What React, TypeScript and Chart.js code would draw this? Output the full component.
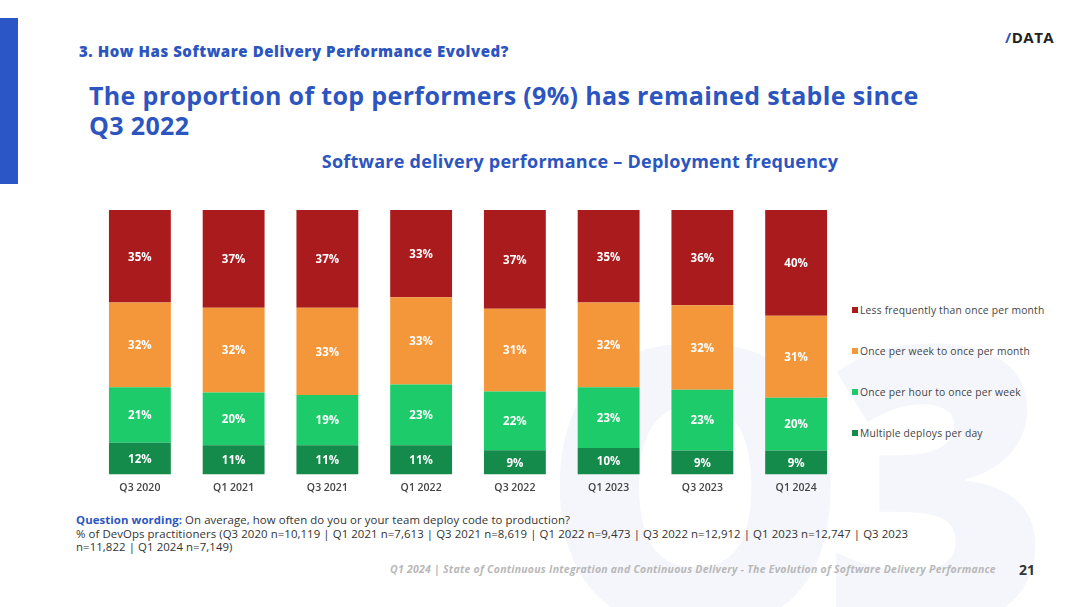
import React, { useEffect, useRef } from "react";
import { Chart, registerables } from "chart.js";

Chart.register(...registerables);

const categories = ["Q3 2020", "Q1 2021", "Q3 2021", "Q1 2022", "Q3 2022", "Q1 2023", "Q3 2023", "Q1 2024"];
const seriesNames = [
  "Multiple deploys per day",
  "Once per hour to once per week",
  "Once per week to once per month",
  "Less frequently than once per month",
];
const multipleDaily = [12, 11, 11, 11, 9, 10, 9, 9];
const hourToWeek = [21, 20, 19, 23, 22, 23, 23, 20];
const weekToMonth = [32, 32, 33, 33, 31, 32, 32, 31];
const lessThanMonthly = [35, 37, 37, 33, 37, 35, 36, 40];
const seriesColors = ["#148A4B", "#1DCB6B", "#F3973A", "#AA1B1E"];

const FONT = "'Open Sans', sans-serif";

const rawSeries = [multipleDaily, hourToWeek, weekToMonth, lessThanMonthly];

const labelPlugin = {
  id: "segLabels",
  afterDatasetsDraw(chart: any) {
    const ctx = chart.ctx;
    ctx.save();
    ctx.fillStyle = "#ffffff";
    ctx.font = `700 11.5px ${FONT}`;
    ctx.textAlign = "center";
    ctx.textBaseline = "middle";
    chart.data.datasets.forEach((ds: any, di: number) => {
      const meta = chart.getDatasetMeta(di);
      meta.data.forEach((bar: any, i: number) => {
        const p = bar.getProps(["x", "y", "base"], true);
        const cy = (p.y + p.base) / 2 + 1;
        ctx.fillText(`${rawSeries[di][i]}%`, p.x, cy);
      });
    });
    ctx.restore();
  },
};

function ChartCanvas() {
  const ref = useRef<HTMLCanvasElement | null>(null);
  useEffect(() => {
    if (!ref.current) return;
    const totals = categories.map((_, i) => rawSeries.reduce((s, arr) => s + arr[i], 0));
    const chart = new Chart(ref.current, {
      type: "bar",
      data: {
        labels: categories,
        datasets: rawSeries.map((arr, di) => ({
          label: seriesNames[di],
          data: arr.map((v, i) => (v / totals[i]) * 100),
          backgroundColor: seriesColors[di],
          borderWidth: 0,
          barPercentage: 0.66,
          categoryPercentage: 1,
        })),
      },
      options: {
        animation: false,
        responsive: false,
        maintainAspectRatio: false,
        layout: { padding: 0 },
        plugins: {
          legend: { display: false },
          tooltip: { enabled: false },
          title: { display: false },
        },
        scales: {
          x: {
            stacked: true,
            grid: { display: false, drawTicks: false },
            border: { display: false },
            ticks: { color: "#444", font: { family: FONT, size: 10.5, weight: 600 }, padding: 7 },
          },
          y: {
            stacked: true,
            display: false,
            min: 0,
            max: 100,
          },
        },
      },
      plugins: [labelPlugin],
    });
    return () => chart.destroy();
  }, []);
  return (
    <canvas
      ref={ref}
      width={750}
      height={291}
      style={{ position: "absolute", left: 93, top: 210, width: 750, height: 291 }}
    />
  );
}

const legendOrder = [3, 2, 1, 0];
const legendY = [310, 351, 392, 433];

export default function App() {
  return (
    <div
      style={{
        position: "absolute",
        left: 0,
        top: 0,
        width: 1080,
        height: 607,
        overflow: "hidden",
        background: "#ffffff",
        fontFamily: FONT,
      }}
    >
      {/* watermark */}
      <div
        style={{
          position: "absolute",
          left: 540,
          top: 280,
          fontSize: 390,
          fontWeight: 800,
          color: "#f5f6fb",
          lineHeight: 1,
          whiteSpace: "nowrap",
          letterSpacing: -28,
        }}
      >
        Q3
      </div>
      <div style={{ position: "absolute", left: 0, top: 18, width: 18, height: 166, background: "#2B56C6" }} />
      <div
        style={{
          position: "absolute",
          left: 79,
          top: 41,
          fontSize: 15,
          fontWeight: 800,
          color: "#2C55C0",
          whiteSpace: "nowrap",
          letterSpacing: 0.55,
        }}
      >
        3. How Has Software Delivery Performance Evolved?
      </div>
      <div
        style={{
          position: "absolute",
          left: 1005,
          top: 27,
          fontSize: 15,
          fontWeight: 700,
          color: "#222",
          whiteSpace: "nowrap",
          letterSpacing: 0.5,
        }}
      >
        <span style={{ color: "#2C55C0" }}>/</span>DATA
      </div>
      <div
        style={{
          position: "absolute",
          left: 89,
          top: 80,
          fontSize: 25,
          fontWeight: 700,
          color: "#2C55C0",
          lineHeight: "30px",
          whiteSpace: "nowrap",
          letterSpacing: 0.35,
        }}
      >
        The proportion of top performers (9%) has remained stable since
        <br />
        Q3 2022
      </div>
      <div
        style={{
          position: "absolute",
          left: 0,
          width: 1160,
          top: 149,
          textAlign: "center",
          fontSize: 18,
          fontWeight: 700,
          color: "#2C55C0",
          whiteSpace: "nowrap",
          letterSpacing: 0.25,
        }}
      >
        Software delivery performance – Deployment frequency
      </div>
      <ChartCanvas />
      {legendOrder.map((si, k) => (
        <div
          key={si}
          style={{
            position: "absolute",
            left: 852,
            top: legendY[k] - 8,
            height: 16,
            display: "flex",
            alignItems: "center",
            fontSize: 10.3,
            color: "#444",
            whiteSpace: "nowrap",
            letterSpacing: 0.2,
          }}
        >
          <span style={{ width: 6, height: 6, background: seriesColors[si], marginRight: 2, display: "inline-block" }} />
          {seriesNames[si]}
        </div>
      ))}
      <div
        style={{
          position: "absolute",
          left: 76,
          top: 513,
          fontSize: 11.4,
          color: "#333",
          lineHeight: "13.5px",
          whiteSpace: "nowrap",
          letterSpacing: 0.08,
        }}
      >
        <span style={{ color: "#2C55C0", fontWeight: 700 }}>Question wording:</span> On average, how often do you or
        your team deploy code to production?
        <br />% of DevOps practitioners (Q3 2020 n=10,119 | Q1 2021 n=7,613 | Q3 2021 n=8,619 | Q1 2022 n=9,473 | Q3
        2022 n=12,912 | Q1 2023 n=12,747 | Q3 2023
        <br />
        n=11,822 | Q1 2024 n=7,149)
      </div>
      <div
        style={{
          position: "absolute",
          left: 390,
          top: 562,
          fontSize: 10.5,
          fontStyle: "italic",
          fontWeight: 700,
          color: "#b8b8b8",
          whiteSpace: "nowrap",
          letterSpacing: 0.25,
        }}
      >
        Q1 2024 | State of Continuous Integration and Continuous Delivery - The Evolution of Software Delivery
        Performance
      </div>
      <div
        style={{
          position: "absolute",
          left: 1019,
          top: 560,
          fontSize: 14,
          fontWeight: 700,
          color: "#333",
        }}
      >
        21
      </div>
    </div>
  );
}
